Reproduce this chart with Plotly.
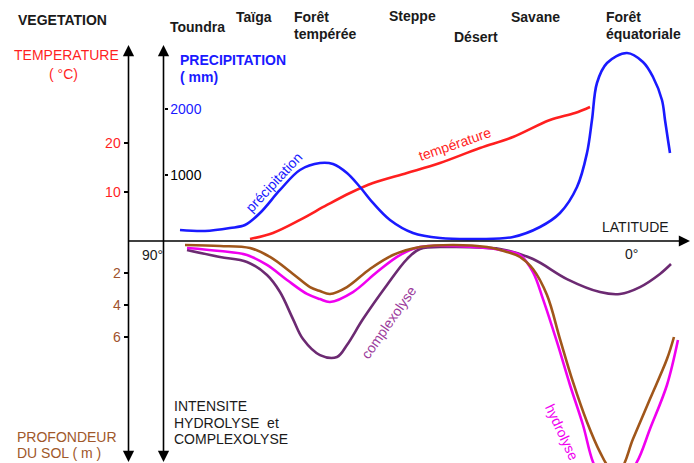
import plotly.graph_objects as go

W, H = 694, 463
FONT = "Liberation Sans, Arial, sans-serif"

# ---------------- data ----------------
# precipitation (mm) vs latitude (deg)
precip_lat = [84.35, 79.64, 74.94, 72.11, 69.29, 65.52, 61.76, 57.99, 55.54, 52.91, 50.46,
              48.01, 44.81, 40.48, 35.40, 27.87, 21.65, 16.57, 12.80, 9.60, 7.72, 6.78,
              5.84, 3.95, 0.19, -2.82, -4.71, -6.40, -6.97, -7.53, -7.91]
precip_mm = [167, 152, 197, 242, 424, 773, 1076, 1182, 1167, 1030, 818,
             576, 318, 121, 45, 30, 61, 212, 424, 818, 1333, 1833,
             2394, 2697, 2848, 2712, 2485, 2136, 1833, 1530, 1333]

# temperature (deg C) vs latitude
temp_lat = [71.17, 66.84, 61.76, 56.67, 52.34, 48.01, 41.61, 35.40, 27.87, 21.65, 14.69, 9.98, 7.15]
temp_c = [0.41, 1.63, 4.29, 7.35, 9.80, 11.84, 13.88, 15.92, 18.98, 21.22, 24.69, 26.12, 27.35]

# soil depth (m) vs latitude
brown_lat = [83.41, 76.82, 71.17, 67.40, 63.07, 59.87, 57.99, 56.11, 52.91, 48.58, 44.25,
             39.16, 32.95, 26.55, 22.78, 20.33, 17.89, 15.25, 12.80, 10.36, 7.72, 5.27,
             3.39, 1.51, -0.94, -4.14, -7.34, -8.66]
brown_m = [0.25, 0.31, 0.44, 1.0, 2.06, 2.88, 3.13, 3.31, 2.88, 1.75, 0.88,
           0.38, 0.25, 0.38, 0.69, 1.0, 1.75, 3.38, 6.13, 8.81, 11.31, 13.19,
           14.19, 14.31, 12.38, 9.88, 7.38, 6.0]

hydro_lat = [83.03, 76.82, 71.74, 67.97, 64.20, 60.44, 57.99, 56.11, 51.78, 47.26, 42.93,
             39.16, 32.95, 26.55, 24.10, 20.33, 17.89, 16.0, 13.37, 10.92, 8.47, 6.59,
             4.71, 1.51, -1.69, -4.14, -7.34, -9.41]
hydro_m = [0.44, 0.63, 0.88, 1.5, 2.44, 3.31, 3.63, 3.81, 3.19, 1.94, 0.88,
           0.38, 0.31, 0.44, 0.56, 0.88, 1.94, 3.63, 6.31, 9.0, 11.5, 13.81,
           14.94, 15.25, 13.81, 11.75, 9.0, 6.19]

complex_lat = [83.03, 76.82, 71.74, 67.97, 65.52, 63.07, 61.19, 57.99, 54.79, 52.91, 49.89,
               45.38, 41.61, 39.16, 32.95, 26.55, 24.10, 17.89, 11.49, 5.27, 1.51, -2.26,
               -6.02, -8.10]
complex_m = [0.56, 1.0, 1.31, 2.13, 3.19, 4.88, 6.13, 7.13, 7.25, 6.5, 4.88,
             2.75, 1.13, 0.5, 0.38, 0.44, 0.5, 1.13, 2.38, 3.19, 3.31, 2.88,
             2.06, 1.44]

vegetation = ["Toundra", "Taïga", "Forêt<br>tempérée", "Steppe", "Désert", "Savane",
              "Forêt<br>équatoriale"]
temp_ticks = [10, 20]
precip_ticks = [1000, 2000]
depth_ticks = [2, 4, 6]

BLUE = "#1a1aff"
RED = "#ff1f1f"
BROWN = "#a0561a"
MAGENTA = "#f000f0"
PURPLE = "#6c2a72"
TXT = "#1a1a1a"


def px(x):
    return x / W


def py(y):
    return 1 - y / H


fig = go.Figure()
fig.add_trace(go.Scatter(x=precip_lat, y=precip_mm, yaxis="y2", mode="lines",
                         line=dict(color=BLUE, width=2.6, shape="spline", smoothing=1.0),
                         hoverinfo="skip"))
fig.add_trace(go.Scatter(x=temp_lat, y=temp_c, yaxis="y", mode="lines",
                         line=dict(color=RED, width=2.6, shape="spline", smoothing=1.0),
                         hoverinfo="skip"))
fig.add_trace(go.Scatter(x=complex_lat, y=complex_m, yaxis="y3", mode="lines",
                         line=dict(color=PURPLE, width=2.6, shape="spline", smoothing=1.0),
                         hoverinfo="skip"))
fig.add_trace(go.Scatter(x=hydro_lat, y=hydro_m, yaxis="y3", mode="lines",
                         line=dict(color=MAGENTA, width=2.6, shape="spline", smoothing=1.0),
                         hoverinfo="skip"))
fig.add_trace(go.Scatter(x=brown_lat, y=brown_m, yaxis="y3", mode="lines",
                         line=dict(color=BROWN, width=2.6, shape="spline", smoothing=1.0),
                         hoverinfo="skip"))

# axis frame lines
shapes = [
    dict(type="line", xref="paper", yref="y", x0=px(128), x1=px(684), y0=0, y1=0,
         line=dict(color="black", width=1.6)),
    dict(type="line", xref="paper", yref="paper", x0=px(128.5), x1=px(128.5), y0=py(458), y1=py(50),
         line=dict(color="black", width=1.6)),
    dict(type="line", xref="paper", yref="paper", x0=px(163.5), x1=px(163.5), y0=py(458), y1=py(50),
         line=dict(color="black", width=1.6)),
]

ann = []
# arrow heads
for (x, y, ax, ay) in [(690, 241, -12, 0), (128.5, 45, 0, 12), (163.5, 45, 0, 12),
                       (128.5, 462, 0, -12), (163.5, 462, 0, -12)]:
    ann.append(dict(x=px(x), y=py(y), xref="paper", yref="paper", ax=ax, ay=ay,
                    axref="pixel", ayref="pixel", text="", showarrow=True,
                    arrowhead=2, arrowsize=1.4, arrowwidth=1.6, arrowcolor="black", standoff=0))


def label(text, x, y, color=TXT, size=14, bold=False, xanchor="left", angle=0, yanchor="middle"):
    t = f"<b>{text}</b>" if bold else text
    ann.append(dict(x=px(x), y=py(y), xref="paper", yref="paper", text=t, showarrow=False,
                    xanchor=xanchor, yanchor=yanchor, textangle=angle,
                    font=dict(family=FONT, size=size, color=color)))


label("VEGETATION", 16, 20, bold=True)
label("TEMPERATURE", 12, 55, color=RED)
label("( °C)", 63, 74, color=RED, xanchor="center")
label("PRECIPITATION", 178, 60, color=BLUE, bold=True)
label("( mm)", 178, 77, color=BLUE, bold=True)

veg_pos = [(168, 27), (234, 17), (292, 17), (387, 16), (452, 37), (509, 17), (604, 17)]
for name, (x, y) in zip(vegetation, veg_pos):
    parts = name.split("<br>")
    for i, p in enumerate(parts):
        label(p, x, y + i * 17, bold=True)

label("LATITUDE", 600, 227)
label("90°", 140, 255)
label("0°", 623, 254)
label("INTENSITE", 172, 406)
label("HYDROLYSE\u00a0\u00a0et", 172, 423)
label("COMPLEXOLYSE", 172, 439)
label("PROFONDEUR", 15, 437, color="#a0582a")
label("DU SOL ( m )", 15, 453, color="#a0582a")

label("précipitation", 274, 182, color=BLUE, xanchor="center", angle=-47)
label("température", 455, 144, color=RED, xanchor="center", angle=-19)
label("complexolyse", 389, 322, color="#9b3a9b", xanchor="center", angle=-55)
label("hydrolyse", 562, 432, color=MAGENTA, xanchor="center", angle=65)

fig.update_layout(
    width=W, height=H,
    margin=dict(l=0, r=0, t=0, b=0),
    paper_bgcolor="white", plot_bgcolor="white",
    showlegend=False,
    xaxis=dict(range=[118.24, -12.43], visible=False, fixedrange=True),
    yaxis=dict(range=[-45.31, 49.18], anchor="free", position=px(128.5), side="left",
               showline=False, showgrid=False, zeroline=False, automargin=False,
               ticks="outside", ticklen=5, tickwidth=1.5, tickcolor="black",
               tickvals=temp_ticks, ticktext=[str(v) for v in temp_ticks],
               tickfont=dict(family=FONT, size=14, color=RED), fixedrange=True),
    yaxis2=dict(range=[-3363.6, 3651.5], overlaying="y", anchor="free", position=px(163.5),
                side="right", showline=False, showgrid=False, zeroline=False, automargin=False,
                ticks="outside", ticklen=3, tickwidth=1.5, tickcolor="black",
                tickvals=precip_ticks,
                ticktext=["<span style='color:black'>1000</span>", "<span style='color:#1a1aff'>2000</span>"],
                tickfont=dict(family=FONT, size=14, color=TXT), fixedrange=True),
    yaxis3=dict(range=[13.875, -15.06], overlaying="y", anchor="free", position=px(128.5),
                side="left", showline=False, showgrid=False, zeroline=False, automargin=False,
                ticks="outside", ticklen=5, tickwidth=1.5, tickcolor="black",
                tickvals=depth_ticks, ticktext=[str(v) for v in depth_ticks],
                tickfont=dict(family=FONT, size=14, color="#a0522d"), fixedrange=True),
    shapes=shapes,
    annotations=ann,
)

fig.write_html("out.html", config={"displayModeBar": False},
               post_script="document.body.style.margin='0px';document.body.style.overflow='hidden';")
